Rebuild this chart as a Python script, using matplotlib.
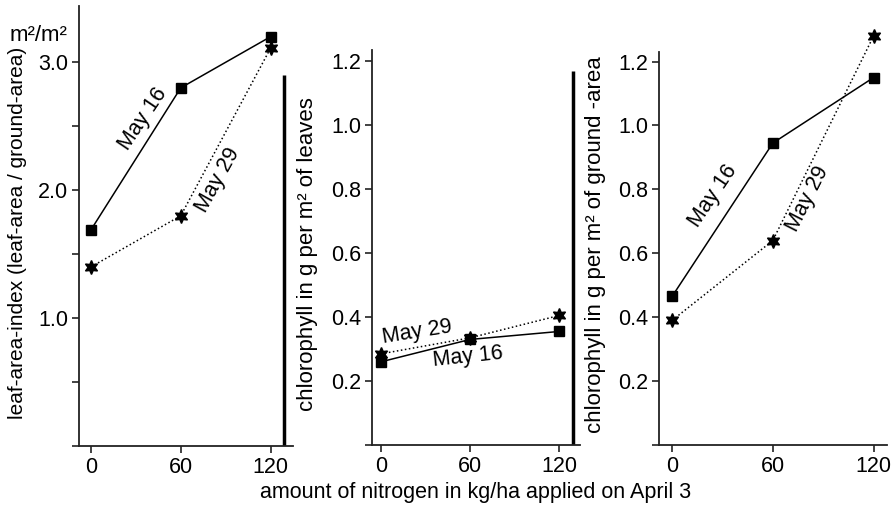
import numpy as np
import matplotlib
matplotlib.use("Agg")
import matplotlib.pyplot as plt

plt.rcParams['font.family'] = ['Liberation Sans', 'DejaVu Sans']

# nitrogen rates (kg/ha)
nitrogen = [0, 60, 120]

# leaf area index, m2/m2
lai_may16 = [1.69, 2.80, 3.20]
lai_may29 = [1.40, 1.80, 3.11]

# chlorophyll, g per m2 of leaves
chl_leaf_may16 = [0.26, 0.33, 0.355]
chl_leaf_may29 = [0.285, 0.335, 0.405]

# chlorophyll, g per m2 of ground area
chl_ground_may16 = [0.465, 0.945, 1.15]
chl_ground_may29 = [0.39, 0.64, 1.28]

# separator bars drawn at the right of the first two panels
sep_x = [128.7, 129.0]
sep_top = [2.9, 1.17]

W, H = 896, 507
fig = plt.figure(figsize=(W / 100, H / 100), dpi=100)


def box(l, r, b, t):
    return [l / W, 1 - b / H, (r - l) / W, (b - t) / H]


ax1 = fig.add_axes(box(79, 293, 446, 6))
ax2 = fig.add_axes(box(372, 580, 445, 50))
ax3 = fig.add_axes(box(659, 887, 445, 52))

star = (6, 1, 0)
fs = 15.5

for ax in (ax1, ax2, ax3):
    for s in ('top', 'right'):
        ax.spines[s].set_visible(False)
    for s in ('left', 'bottom'):
        ax.spines[s].set_linewidth(1.3)
        ax.spines[s].set_color('#222222')
    ax.tick_params(direction='out', length=5, width=1.2, labelsize=fs, pad=3, color='#222222')
    ax.tick_params(which='minor', direction='out', length=5, width=1.2, color='#222222')
    ax.set_xticks(nitrogen)


def draw(ax, s16, s29):
    ax.plot(nitrogen, s16, '-', color='black', lw=1.1, marker='s', ms=7.5, mfc='black', mec='black')
    ax.plot(nitrogen, s29, ':', color='black', lw=1.1, marker=star, ms=10, mfc='black', mec='black')


# leaf area index
draw(ax1, lai_may16, lai_may29)
ax1.set_xlim(-8, 135)
ax1.set_ylim(0, 3.44)
ax1.set_yticks([0, 1, 2, 3])
ax1.set_yticklabels(['', '1.0', '2.0', '3.0'])
ax1.set_yticks([0.5, 1.5, 2.5], minor=True)
ax1.vlines(sep_x[0], 0, sep_top[0], color='black', lw=2.5)
ax1.text(34.7, 2.56, 'May 16', rotation=56, ha='center', va='center', fontsize=fs)
ax1.text(84.7, 2.08, 'May 29', rotation=61, ha='center', va='center', fontsize=fs)

# chlorophyll per leaf area
draw(ax2, chl_leaf_may16, chl_leaf_may29)
ax2.set_xlim(-6, 134)
ax2.set_ylim(0, 1.235)
ax2.set_yticks([0, 0.2, 0.4, 0.6, 0.8, 1.0, 1.2])
ax2.set_yticklabels(['', '0.2', '0.4', '0.6', '0.8', '1.0', '1.2'])
ax2.vlines(sep_x[1], 0, sep_top[1], color='black', lw=2.5)
ax2.text(24.3, 0.353, 'May 29', rotation=9, ha='center', va='center', fontsize=fs)
ax2.text(58.7, 0.275, 'May 16', rotation=6, ha='center', va='center', fontsize=fs)

# chlorophyll per ground area
draw(ax3, chl_ground_may16, chl_ground_may29)
ax3.set_xlim(-7.8, 128)
ax3.set_ylim(0, 1.23)
ax3.set_yticks([0, 0.2, 0.4, 0.6, 0.8, 1.0, 1.2])
ax3.set_yticklabels(['', '0.2', '0.4', '0.6', '0.8', '1.0', '1.2'])
ax3.text(24.4, 0.78, 'May 16', rotation=56, ha='center', va='center', fontsize=fs)
ax3.text(80.8, 0.77, 'May 29', rotation=63, ha='center', va='center', fontsize=fs)

for ax in (ax1, ax2, ax3):
    for ln in ax.lines:
        ln.set_clip_on(False)

fig.text(0.011, 0.919, 'm²/m²', ha='left', va='baseline', fontsize=16)
fig.text(0.020, 0.540, 'leaf-area-index (leaf-area / ground-area)', rotation=90,
         ha='center', va='center', fontsize=15)
fig.text(0.343, 0.499, 'chlorophyll in g per m² of leaves', rotation=90,
         ha='center', va='center', fontsize=16)
fig.text(0.665, 0.517, 'chlorophyll in g per m² of ground -area', rotation=90,
         ha='center', va='center', fontsize=16)
fig.text(0.531, 0.018, 'amount of nitrogen in kg/ha applied on April 3',
         ha='center', va='baseline', fontsize=fs)

fig.savefig('out.png', dpi=100)
